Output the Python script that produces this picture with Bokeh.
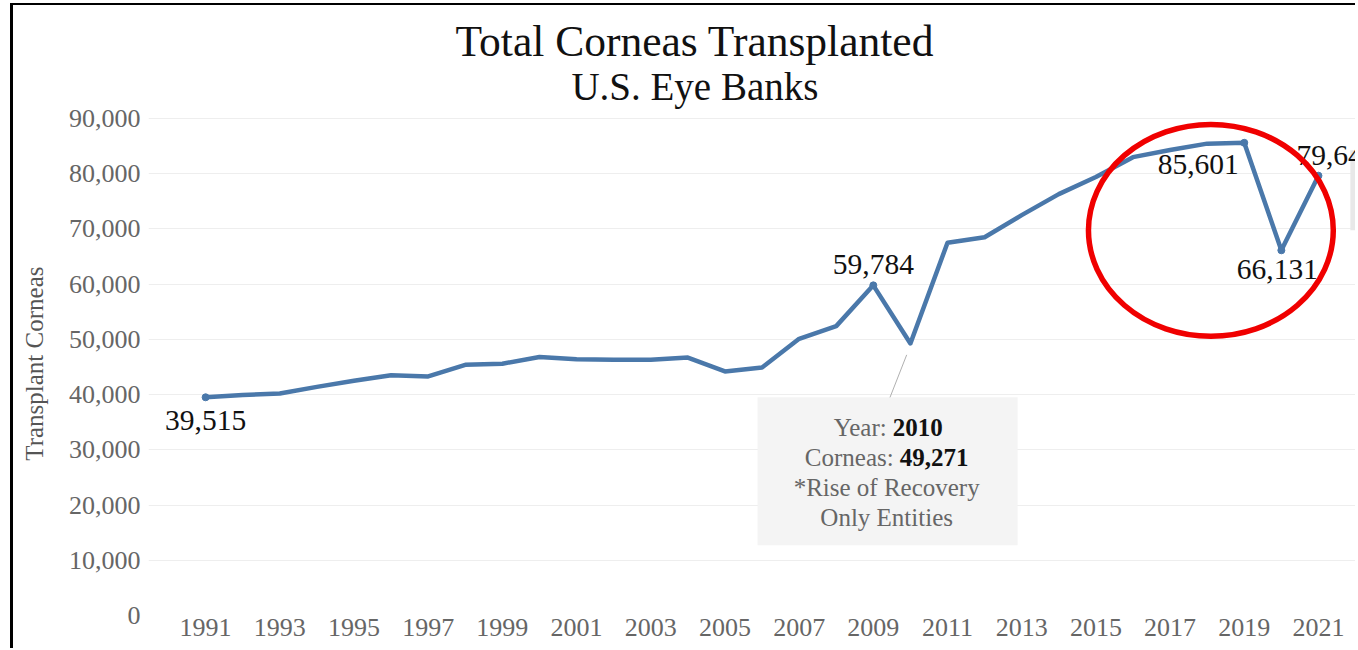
from bokeh.plotting import figure
from bokeh.models import Range1d, FixedTicker, NumeralTickFormatter
from bokeh.core.properties import value
from bokeh.embed import file_html
from bokeh.resources import INLINE

# ---- data ----
years = list(range(1991, 2022))
corneas = [39515, 39950, 40200, 41400, 42500, 43500, 43300, 45400, 45600, 46800,
           46400, 46300, 46300, 46700, 44200, 44900, 50100, 52400, 59784, 49271,
           67500, 68500, 72500, 76300, 79400, 83000, 84300, 85450, 85601, 66131, 79642]
x_tick_years = [1991, 1993, 1995, 1997, 1999, 2001, 2003, 2005, 2007, 2009,
                2011, 2013, 2015, 2017, 2019, 2021]
y_tick_values = [0, 10000, 20000, 30000, 40000, 50000, 60000, 70000, 80000, 90000]
title_text = "Total Corneas Transplanted"
subtitle_text = "U.S. Eye Banks"
y_axis_title = "Transplant Corneas"
note_year = 2010
note_lines = ["*Rise of Recovery", "Only Entities"]

FONT = value("Liberation Serif")
LINE_COLOR = "#4a78aa"

# layout: the frame reaches the top of the canvas so that the titles can be
# drawn inside it; the 90,000 gridline sits 113 px below the top.
H, BOTTOM, TOP_GAP = 645, 35, 113
frame_h = H - BOTTOM
y_max = max(y_tick_values)
y_end = y_max * frame_h / (frame_h - TOP_GAP)

p = figure(width=1345, height=H, output_backend="svg", toolbar_location=None,
           title_location=None,
           x_range=Range1d(1989.46, 2022.08), y_range=Range1d(0, y_end),
           min_border_left=135, min_border_right=0, min_border_top=0,
           min_border_bottom=BOTTOM)
p.styles = {"margin-left": "10px", "margin-top": "3px",
            "border-left": "3px solid black", "border-top": "2px solid black"}
p.outline_line_color = None
p.background_fill_color = "white"
p.border_fill_color = "white"

# axes
p.xaxis.ticker = FixedTicker(ticks=x_tick_years)
p.yaxis.ticker = FixedTicker(ticks=y_tick_values)
p.yaxis.formatter = NumeralTickFormatter(format="0,0")
for ax in (p.xaxis[0], p.yaxis[0]):
    ax.axis_line_color = None
    ax.major_tick_line_color = None
    ax.minor_tick_line_color = None
    ax.major_tick_out = 0
    ax.minor_tick_out = 0
    ax.major_label_text_font = "Liberation Serif"
    ax.major_label_text_color = "#666666"
p.xaxis.major_label_text_font_size = "26px"
p.yaxis.major_label_text_font_size = "26px"
p.yaxis.major_label_standoff = 8
p.xaxis.major_label_standoff = 3
# non-breaking spaces after the title move it down to the centre of the 0-90,000 span
p.yaxis.axis_label = y_axis_title + "\u00a0" * 17
p.yaxis.axis_label_text_font = "Liberation Serif"
p.yaxis.axis_label_text_font_size = "25px"
p.yaxis.axis_label_text_font_style = "normal"
p.yaxis.axis_label_text_color = "#555555"
p.yaxis.axis_label_standoff = 18

p.xgrid.grid_line_color = None
p.ygrid.grid_line_color = "#eeeeee"
p.ygrid.grid_line_width = 1

# titles, anchored at the top of the frame
title_x = 2004.19
p.text(x=[title_x], y=[y_end], text=[title_text], y_offset=35,
       text_align="center", text_baseline="middle", text_font=FONT,
       text_font_size="43.5px", text_color="#111111")
p.text(x=[title_x], y=[y_end], text=[subtitle_text], y_offset=81,
       text_align="center", text_baseline="middle", text_font=FONT,
       text_font_size="39px", text_color="#111111")

# tooltip-like note box for 2010
i10 = years.index(note_year)
p.quad(left=2005.88, right=2012.89, bottom=12700, top=39500,
       fill_color="#f4f4f4", line_color=None)
p.segment(x0=[2009.9], y0=[47200], x1=[2009.45], y1=[39500],
          line_color="#b0b0b0", line_width=1)
# light grey box at the right edge (partly visible popup)
p.quad(left=2021.86, right=2022.2, bottom=69750, top=84240,
       fill_color="#e8e8e8", line_color=None)

# main line
p.line(years, corneas, line_color=LINE_COLOR, line_width=4.5, line_join="round")
mark_idx = [0, years.index(2009), years.index(2019), years.index(2020), years.index(2021)]
p.scatter([years[i] for i in mark_idx], [corneas[i] for i in mark_idx],
          size=7, color=LINE_COLOR)

# data labels
def lab(i, dx, dy, align="center"):
    p.text(x=[years[i]], y=[corneas[i]], text=[f"{corneas[i]:,}"],
           x_offset=dx, y_offset=dy, text_align=align, text_baseline="middle",
           text_font=FONT, text_font_size="29.5px", text_color="#111111")

lab(0, 0, 23)
lab(years.index(2009), 0, -21)
lab(years.index(2019), -46, 22)
lab(years.index(2020), -4, 19)
lab(years.index(2021), -22, -20, align="left")

# note text
cx = 2009.36
ty = 39500
def note(txt, dx, dy, align, bold=False, color="#666666"):
    p.text(x=[cx], y=[ty], text=[txt], x_offset=dx, y_offset=dy,
           text_align=align, text_baseline="middle", text_font=FONT,
           text_font_size="25px", text_color=color,
           text_font_style="bold" if bold else "normal")

note("Year:", 0, 30, "right")
note(str(years[i10]), 6, 30, "left", bold=True, color="#111111")
note("Corneas:", 7, 60, "right")
note(f"{corneas[i10]:,}", 13, 60, "left", bold=True, color="#111111")
note(note_lines[0], 0, 90, "center")
note(note_lines[1], 0, 120, "center")

# red highlight ellipse
p.ellipse(x=[2018.1], y=[69750], width=6.6, height=38400,
          fill_color=None, line_color="#f00000", line_width=5.5)

open("out.html", "w").write(file_html(p, INLINE))
